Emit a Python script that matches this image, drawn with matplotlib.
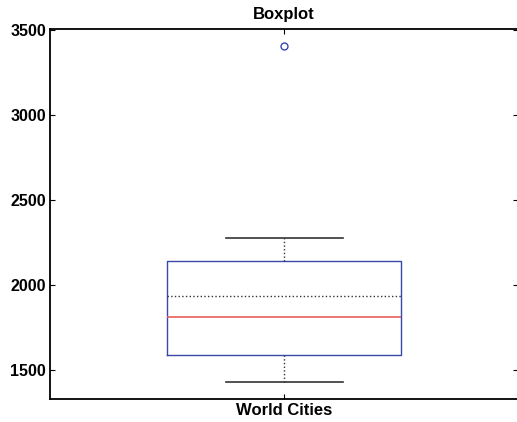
import matplotlib
matplotlib.use('Agg')
from matplotlib import pyplot as plt

plt.rcParams['font.family'] = ['Liberation Sans', 'DejaVu Sans']

# values (World Cities)
category = 'World Cities'
whisker_low = 1429
q1 = 1586
median = 1812
mean = 1935
q3 = 2141
whisker_high = 2275
outliers = [3404]
yticks = [1500, 2000, 2500, 3000, 3500]

stats = [{
    'whislo': whisker_low, 'q1': q1, 'med': median, 'mean': mean,
    'q3': q3, 'whishi': whisker_high, 'fliers': outliers, 'label': category,
}]

fig = plt.figure(figsize=(5.17, 4.22), dpi=100)
ax = fig.add_axes([50 / 517, 23 / 422, 468 / 517, 370 / 422])

ax.bxp(stats, positions=[1], widths=0.5, showmeans=True, meanline=True,
       boxprops=dict(color='#3848a8', linewidth=1.0),
       medianprops=dict(color='#e8605c', linewidth=1.2),
       meanprops=dict(color='#333333', linestyle=':', linewidth=1.0),
       whiskerprops=dict(color='#333333', linestyle=':', linewidth=1.0),
       capprops=dict(color='#333333', linewidth=1.2),
       capwidths=0.25,
       flierprops=dict(marker='o', markerfacecolor='none',
                       markeredgecolor='#3848b8', markersize=5))

ax.set_xlim(0.5, 1.5)
ax.set_ylim(1330, 3505)
ax.set_yticks(yticks)
ax.set_xticks([1])
ax.set_xticklabels([''])
ax.tick_params(direction='in', length=3.5, width=0.8, top=True, right=True,
               labelsize=11.5, pad=3)
for lab in ax.get_yticklabels():
    lab.set_fontweight('bold')
for side in ('left', 'bottom', 'top'):
    ax.spines[side].set_linewidth(1.3)
ax.spines['right'].set_visible(False)

ax.set_title('Boxplot', fontweight='bold', fontsize=12, pad=7)
ax.set_xlabel(category, fontweight='bold', fontsize=12, labelpad=0)

fig.savefig('out.png', dpi=100)
